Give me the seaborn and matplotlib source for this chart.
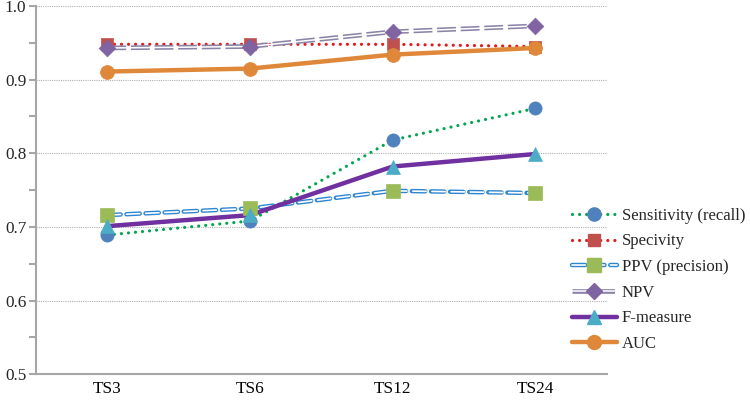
import matplotlib
matplotlib.use("Agg")
import matplotlib.pyplot as plt
import seaborn as sns
import numpy as np
import pandas as pd
from matplotlib.lines import Line2D
from matplotlib.ticker import MultipleLocator, FixedLocator
from matplotlib.legend_handler import HandlerTuple

categories = ["TS3", "TS6", "TS12", "TS24"]
sensitivity = [0.689, 0.708, 0.818, 0.861]
specivity = [0.948, 0.948, 0.948, 0.945]
ppv = [0.716, 0.725, 0.749, 0.746]
npv = [0.943, 0.945, 0.965, 0.973]
fmeasure = [0.701, 0.716, 0.782, 0.799]
auc = [0.911, 0.915, 0.934, 0.943]
labels = ["Sensitivity (recall)", "Specivity", "PPV (precision)", "NPV", "F-measure", "AUC"]

sns.set_style("white")
plt.rcParams['font.family'] = ['Liberation Serif', 'DejaVu Serif']

fig = plt.figure(figsize=(7.5, 4.01), dpi=100)
ax = fig.add_axes([0.048, 0.067, 0.761, 0.918])

x = np.arange(len(categories))
dot = (0.01, 2.2)

series = [
    (sensitivity, [dict(color="#00A651", lw=2.3, ls=(0, dot), cap="round")], "#4F81BD", "o", 9.5),
    (specivity, [dict(color="#E31A1C", lw=2.3, ls=(0, dot), cap="round")], "#C0504D", "s", 9),
    (ppv, [dict(color="#2E86D1", lw=3.2, ls=(0, (3.0, 1.3)), cap="round"),
           dict(color="white", lw=1.2, ls=(0, (8.0, 3.5)), cap="round")], "#9BBB59", "s", 10),
    (npv, [dict(color="#8C84A8", lw=3.4, ls=(0, (4.0, 1.0)), cap="butt"),
           dict(color="white", lw=1.1, ls="-", cap="butt")], "#8064A2", "D", 8.5),
    (fmeasure, [dict(color="#7030A0", lw=3.2, ls="-", cap="butt")], "#4BACC6", "^", 10),
    (auc, [dict(color="#E0883A", lw=3.2, ls="-", cap="butt")], "#E0883A", "o", 10),
]

handles = []
for vals, layers, mcol, mk, ms in series:
    df = pd.DataFrame({"x": x, "y": vals})
    hl = []
    for L in layers:
        sns.lineplot(data=df, x="x", y="y", ax=ax, color=L["color"], linewidth=L["lw"],
                     linestyle=L["ls"], dash_capstyle=L["cap"], zorder=2, legend=False)
        hl.append(Line2D([], [], color=L["color"], lw=L["lw"], ls=L["ls"], dash_capstyle=L["cap"]))
    sns.scatterplot(data=df, x="x", y="y", ax=ax, color=mcol, marker=mk, s=ms ** 2,
                    edgecolor=mcol, linewidth=0.5, zorder=3, legend=False)
    hl.append(Line2D([], [], color=mcol, marker=mk, markersize=ms, ls="none",
                     markeredgecolor=mcol))
    handles.append(tuple(hl))

ax.set_xlim(-0.5, 3.5)
ax.set_ylim(0.5, 1.0)
ax.set_xticks(x)
ax.set_xticklabels(categories)
ax.xaxis.set_minor_locator(FixedLocator(np.arange(-0.5, 3.6, 1.0)))
ax.yaxis.set_major_locator(MultipleLocator(0.1))
ax.yaxis.set_minor_locator(MultipleLocator(0.05))
ax.yaxis.set_major_formatter(matplotlib.ticker.FormatStrFormatter("%.1f"))
ax.set_xlabel("")
ax.set_ylabel("")

ax.grid(axis="y", which="major", color="#B0B0B0", linestyle=(0, (1, 1)), linewidth=0.8, zorder=0)
ax.grid(axis="x", visible=False)
for s in ["top", "right"]:
    ax.spines[s].set_visible(False)
for s in ["left", "bottom"]:
    ax.spines[s].set_color("#A6A6A6")
    ax.spines[s].set_linewidth(1.5)

ax.tick_params(axis="x", which="major", length=0, labelsize=12.4, pad=5, colors="black")
ax.tick_params(axis="x", which="minor", length=3.5, width=1.2, color="#A6A6A6", direction="out")
ax.tick_params(axis="y", which="both", length=5, width=1.5, color="#A6A6A6", direction="out",
               labelsize=12.4, left=True)
ax.tick_params(axis="y", which="major", pad=2)

leg = ax.legend(handles, labels, handler_map={tuple: HandlerTuple(ndivide=1)},
                loc="upper left", bbox_to_anchor=(0.762, 0.482), bbox_transform=fig.transFigure,
                frameon=False, fontsize=12.0, handlelength=2.7, handletextpad=0.3,
                labelspacing=0.58, borderaxespad=0, borderpad=0)
leg.set_zorder(5)

fig.savefig("out.png", dpi=100)
